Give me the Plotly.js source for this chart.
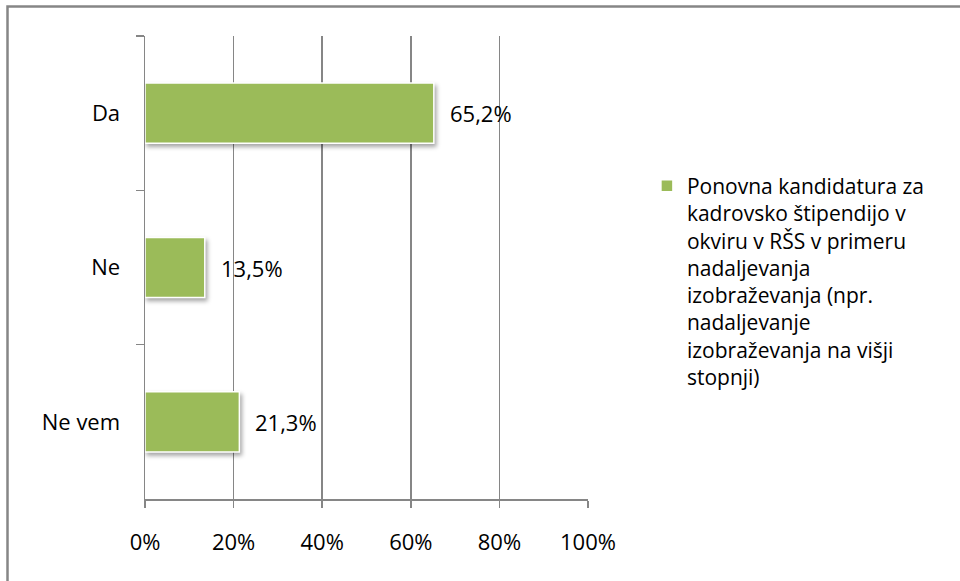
<!DOCTYPE html>
<html>
<head>
<meta charset="utf-8">
<script src="https://cdn.plot.ly/plotly-3.0.1.min.js"></script>
<style>
  html, body { margin: 0; padding: 0; background: #fff; }
  #chart { width: 960px; height: 581px; }
</style>
</head>
<body>
<div id="chart"></div>
<script>
const categories = ["Da", "Ne", "Ne vem"];
const values = [65.2, 13.5, 21.3];
const xTicks = [0, 20, 40, 60, 80, 100];
const xTickLabels = ["0%", "20%", "40%", "60%", "80%", "100%"];
const seriesName = "Ponovna kandidatura za<br>kadrovsko štipendijo v<br>okviru v RŠS v primeru<br>nadaljevanja<br>izobraževanja (npr.<br>nadaljevanje<br>izobraževanja na višji<br>stopnji)";

const FONT = "Open Sans, Noto Sans, sans-serif";
const GRAY = "#868686";
const GREEN = "#9BBB59";

const trace = {
  type: "bar",
  orientation: "h",
  x: values,
  y: categories,
  name: seriesName,
  marker: { color: GREEN, line: { color: "#ffffff", width: 1.5 } },
  showlegend: true,
  hoverinfo: "skip"
};

const labelAnnotations = values.map((v, i) => ({
  x: v, y: categories[i], xref: "x", yref: "y",
  text: v.toFixed(1).replace(".", ",") + "%",
  showarrow: false, xanchor: "left", yanchor: "middle", xshift: 14,
  font: { family: FONT, size: 22, color: "#000" }
}));

const layout = {
  width: 960, height: 581,
  margin: { l: 145, r: 372, t: 36, b: 82 },
  paper_bgcolor: "#fff", plot_bgcolor: "#fff",
  bargap: 0.61,
  font: { family: FONT, size: 22, color: "#000" },
  xaxis: {
    range: [0, 100], tickmode: "array", tickvals: xTicks, ticktext: xTickLabels,
    showgrid: true, gridcolor: GRAY, gridwidth: 1.5,
    showline: true, linecolor: GRAY, linewidth: 1.5,
    ticks: "outside", ticklen: 7, tickcolor: GRAY, tickwidth: 1.5,
    ticklabelstandoff: 16, zeroline: false, fixedrange: true
  },
  yaxis: {
    type: "category", categoryorder: "array", categoryarray: categories,
    autorange: "reversed",
    showline: true, linecolor: GRAY, linewidth: 1.5,
    ticks: "outside", tickson: "boundaries", ticklen: 8, tickcolor: GRAY, tickwidth: 1.5,
    ticklabelstandoff: 19, showgrid: false, zeroline: false, fixedrange: true
  },
  legend: {
    x: 1.133, xanchor: "left", y: 0.72, yanchor: "top",
    valign: "top", font: { family: FONT, size: 21, color: "#000" },
    bgcolor: "rgba(0,0,0,0)", itemclick: false
  },
  annotations: labelAnnotations,
  shapes: [{
    type: "rect", xref: "paper", yref: "paper",
    x0: (7.5 - 145) / 443, x1: 1.9,
    y0: -0.4, y1: (499 - 6.5) / 463,
    line: { color: GRAY, width: 2.5 }, fillcolor: "rgba(0,0,0,0)", layer: "below"
  }]
};

Plotly.newPlot("chart", [trace], layout, { displayModeBar: false, staticPlot: true }).then(() => {
  document.querySelectorAll("#chart .bars path").forEach(p => {
    p.style.filter = "drop-shadow(2px 3px 2px rgba(0,0,0,0.35))";
  });
});
</script>
</body>
</html>
